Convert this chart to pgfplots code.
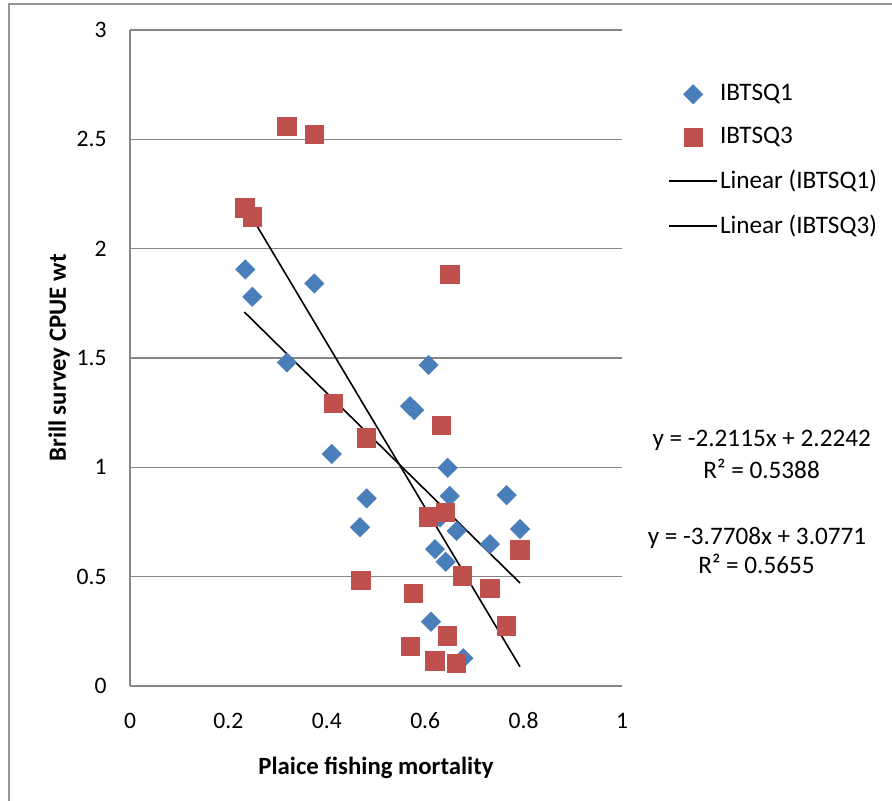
\documentclass[border=0pt]{standalone}
\usepackage{pgfplots}
\pgfplotsset{compat=1.18}
\usepackage{fontspec}
\setmainfont{Carlito}
\definecolor{ser1}{RGB}{74,126,187}
\definecolor{ser2}{RGB}{192,80,77}
\definecolor{gridc}{RGB}{134,134,134}
\definecolor{framec}{RGB}{150,150,150}
\begin{document}
\fontsize{12.6}{15}\selectfont
\begin{tikzpicture}
\useasboundingbox (0,0) rectangle (446pt,400pt);
\draw[framec, line width=1pt] (4.5pt,-2pt) -- (4.5pt,398pt) -- (450pt,398pt);
\begin{axis}[
  at={(65pt,57pt)}, anchor=south west,
  scale only axis, width=246pt, height=328pt,
  xmin=0, xmax=1, ymin=0, ymax=3,
  xtick={0,0.2,0.4,0.6,0.8,1}, xticklabels={0,0.2,0.4,0.6,0.8,1},
  ytick={0,0.5,1,1.5,2,2.5,3}, yticklabels={0,0.5,1,1.5,2,2.5,3},
  axis x line=bottom, axis y line=left,
  axis line style={-, draw=gridc, line width=0.75pt},
  ymajorgrids, major grid style={gridc, line width=0.75pt},
  major tick length=0pt,
  tick label style={font=\fontsize{11.8}{14}\selectfont, /pgf/number format/assume math mode=true},
  xticklabel style={anchor=center, yshift=-17.25pt, inner sep=0pt},
  yticklabel style={anchor=east, xshift=-11.5pt, inner sep=0pt},
  xlabel={\bfseries Plaice fishing mortality},
  ylabel={\bfseries Brill survey CPUE wt},
  label style={font=\fontsize{12.4}{15}\selectfont},
  xlabel style={at={(axis description cs:0.5,-0.125)}, anchor=center},
  ylabel style={at={(axis description cs:-0.1443,0.5)}, anchor=center},
  legend image code/.code={\draw[mark repeat=2,mark phase=2,#1] plot coordinates {(0pt,0pt) (12pt,0pt) (24pt,0pt)};},
  legend style={at={(axis description cs:1.0935,0.921)}, anchor=north west,
    draw=none, fill=none, font=\fontsize{12.6}{15}\selectfont,
    row sep=9.4pt, inner sep=0pt, nodes={inner sep=1pt}},
  legend cell align=left,
  clip=false,
]
\addplot[only marks, mark=square*, mark size=3.36pt, mark options={rotate=45, fill=ser1, draw=ser1}]
  table {
0.2344 1.905
0.2486 1.780
0.3746 1.841
0.3190 1.480
0.6070 1.468
0.5690 1.280
0.5775 1.262
0.4100 1.061
0.6457 0.998
0.4810 0.858
0.6500 0.869
0.7656 0.873
0.4675 0.726
0.7927 0.718
0.6640 0.709
0.7317 0.649
0.6200 0.626
0.6300 0.770
0.6416 0.568
0.6118 0.294
0.6775 0.127
};
\addlegendentry{IBTSQ1}
\addplot[only marks, mark=square*, mark size=4.6pt, mark options={fill=ser2, draw=ser2}]
  table {
0.3185 2.560
0.3746 2.523
0.2337 2.187
0.2486 2.146
0.6500 1.882
0.4130 1.293
0.6335 1.191
0.4810 1.135
0.6063 0.774
0.6416 0.794
0.7927 0.622
0.4690 0.482
0.6750 0.503
0.7317 0.447
0.5760 0.424
0.7656 0.274
0.6457 0.230
0.5705 0.180
0.6200 0.114
0.6640 0.104
};
\addlegendentry{IBTSQ3}
\addplot[black, line width=0.8pt] coordinates {(0.2323,1.7105) (0.7927,0.4711)};
\addlegendentry{Linear (IBTSQ1)}
\addplot[black, line width=0.8pt] coordinates {(0.2323,2.2012) (0.7927,0.0880)};
\addlegendentry{Linear (IBTSQ3)}
\end{axis}
\node[font=\fontsize{12.6}{15}\selectfont] at (380.85pt,180pt) {y = -2.2115x + 2.2242};
\node[font=\fontsize{12.6}{15}\selectfont] at (380.8pt,165.5pt) {R² = 0.5388};
\node[font=\fontsize{12.6}{15}\selectfont] at (378.5pt,131pt) {y = -3.7708x + 3.0771};
\node[font=\fontsize{12.6}{15}\selectfont] at (378.25pt,118pt) {R² = 0.5655};
\end{tikzpicture}
\end{document}
